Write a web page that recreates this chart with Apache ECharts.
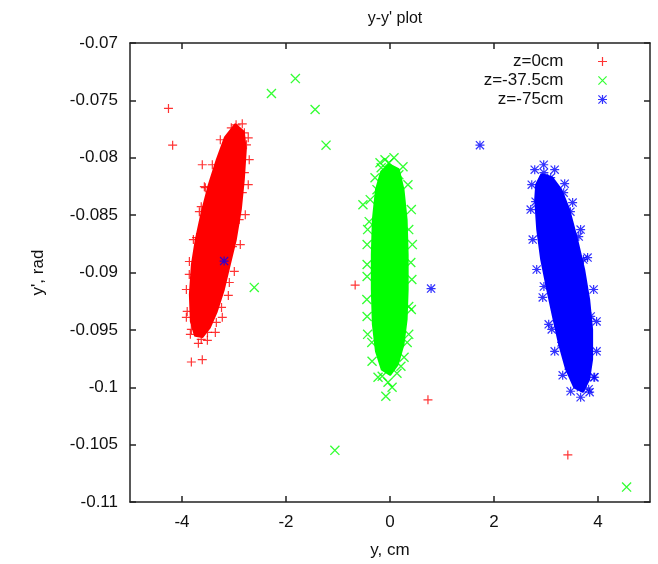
<!DOCTYPE html>
<html>
<head>
<meta charset="utf-8">
<script src="https://cdn.jsdelivr.net/npm/echarts@6/dist/echarts.min.js"></script>
<style>html,body{margin:0;padding:0;background:#fff}#c{width:658px;height:564px}</style>
</head>
<body>
<div id="c"></div>
<script>
// ---- data ----
const titleText = "y-y' plot";
const xName = "y, cm";
const yName = "y', rad";
const seriesNames = ["z=0cm", "z=-37.5cm", "z=-75cm"];
const xTickValues = [-4, -2, 0, 2, 4];
const yTickValues = [-0.11, -0.105, -0.1, -0.095, -0.09, -0.085, -0.08, -0.075, -0.07];

// dense core outlines (y [cm], y' [rad])
const redCore = [[-2.975,-0.07713],[-2.821,-0.07774],[-2.783,-0.07930],[-2.821,-0.08191],[-2.879,-0.08452],[-2.975,-0.08713],[-3.090,-0.08930],[-3.205,-0.09148],[-3.340,-0.09339],[-3.474,-0.09478],[-3.608,-0.09557],[-3.743,-0.09548],[-3.820,-0.09426],[-3.839,-0.09191],[-3.800,-0.08930],[-3.724,-0.08713],[-3.608,-0.08470],[-3.474,-0.08235],[-3.321,-0.08017],[-3.167,-0.07826]];
const greenCore = [[-0.019,-0.08061],[0.160,-0.08104],[0.250,-0.08278],[0.310,-0.08539],[0.330,-0.08843],[0.330,-0.09148],[0.310,-0.09409],[0.250,-0.09626],[0.140,-0.09800],[0.000,-0.09887],[-0.150,-0.09843],[-0.260,-0.09687],[-0.320,-0.09452],[-0.340,-0.09148],[-0.340,-0.08843],[-0.320,-0.08539],[-0.260,-0.08278],[-0.160,-0.08122]];
const blueCore = [[2.917,-0.08148],[3.109,-0.08174],[3.282,-0.08278],[3.436,-0.08452],[3.589,-0.08713],[3.724,-0.08974],[3.820,-0.09235],[3.877,-0.09496],[3.877,-0.09757],[3.820,-0.09930],[3.704,-0.10035],[3.551,-0.10000],[3.397,-0.09843],[3.263,-0.09626],[3.148,-0.09391],[3.033,-0.09148],[2.917,-0.08887],[2.841,-0.08626],[2.802,-0.08365],[2.821,-0.08235]];

// individual points (fringe + outliers)
const redPoints = [[-4.26,-0.0757],[-4.18,-0.0789],[-0.67,-0.0911],[0.73,-0.1011],[3.42,-0.1059],[-3.82,-0.0978],[-3.61,-0.0976],
 [-2.96,-0.07713],[-2.80,-0.07783],[-2.76,-0.07887],[-3.61,-0.08061],[-3.57,-0.08252],[-3.63,-0.08426],[-3.72,-0.08696],[-3.86,-0.09017],[-3.90,-0.09339],[-3.82,-0.09496],[-3.63,-0.09583],[-3.24,-0.09304],[-3.09,-0.09087],[-3.03,-0.08774],[-2.84,-0.08304],[-2.80,-0.08130],[-2.90,-0.08539],[-3.34,-0.09435],[-3.51,-0.09522],[-3.15,-0.08913],
 [-3.263,-0.07843],[-3.417,-0.08061],[-3.551,-0.08261],[-3.666,-0.08470],[-3.781,-0.08713],[-3.858,-0.08904],[-3.916,-0.09148],[-3.916,-0.09391],[-3.839,-0.09539],[-3.685,-0.09617],[-3.512,-0.09591],[-3.359,-0.09522],[-3.225,-0.09391],[-3.109,-0.09200],[-2.994,-0.08991],[-2.879,-0.08757],[-2.783,-0.08496],[-2.726,-0.08235],[-2.707,-0.08017],[-2.726,-0.07826],[-2.841,-0.07704],[-3.052,-0.07739]];
const greenPoints = [[-2.28,-0.0744],[-1.82,-0.0731],[-1.44,-0.0758],[-1.23,-0.0789],[-2.61,-0.0913],[-1.06,-0.1055],[4.55,-0.1087],[-0.52,-0.0841],
 [-0.02,-0.08043],[-0.17,-0.08087],[0.17,-0.08148],[-0.40,-0.08557],[-0.44,-0.08757],[-0.44,-0.09035],[-0.44,-0.09383],[-0.35,-0.09609],[-0.15,-0.09904],[0.04,-0.10000],[-0.08,-0.10078],[0.36,-0.08626],[0.40,-0.08913],[0.36,-0.09296],[0.33,-0.09609],[0.21,-0.09817],[-0.25,-0.08278],
 [-0.096,-0.08017],[0.077,-0.08000],[0.250,-0.08078],[0.345,-0.08235],[0.410,-0.08452],[0.430,-0.08757],[0.420,-0.09061],[0.410,-0.09322],[0.360,-0.09539],[0.270,-0.09739],[0.134,-0.09878],[-0.038,-0.09957],[-0.230,-0.09913],[-0.345,-0.09774],[-0.430,-0.09539],[-0.445,-0.09235],[-0.440,-0.08930],[-0.430,-0.08626],[-0.380,-0.08365],[-0.288,-0.08174],[-0.192,-0.08043]];
const bluePoints = [[1.73,-0.0789],[0.79,-0.0914],[-3.19,-0.0890],
 [2.96,-0.08130],[3.09,-0.08174],[2.80,-0.08383],[3.34,-0.08304],[3.47,-0.08470],[2.96,-0.09122],[3.11,-0.09496],[3.30,-0.09609],[3.63,-0.08687],[3.72,-0.08887],[3.86,-0.09383],[3.92,-0.09913],[3.67,-0.10000],[3.82,-0.10017],[3.76,-0.09757],[3.44,-0.09843],
 [2.783,-0.08104],[2.956,-0.08061],[3.167,-0.08104],[3.359,-0.08226],[3.512,-0.08391],[3.666,-0.08626],[3.800,-0.08870],[3.916,-0.09148],[3.973,-0.09426],[3.973,-0.09687],[3.935,-0.09913],[3.839,-0.10043],[3.666,-0.10087],[3.474,-0.10035],[3.321,-0.09896],[3.167,-0.09687],[3.052,-0.09452],[2.937,-0.09217],[2.821,-0.08974],[2.745,-0.08713],[2.706,-0.08452],[2.726,-0.08235]];

// ---- styles ----
const COLORS = ['#ff0000', '#00ff00', '#0000ff'];
const PLUS = 'path://M3.9,0H5.1V9H3.9Z M0,3.9H9V5.1H0Z';
const CROSS = 'path://M0,0.85L0.85,0L9,8.15L8.15,9Z M8.15,0L9,0.85L0.85,9L0,8.15Z';
const STAR = 'path://M3.9,0H5.1V9H3.9Z M0,3.9H9V5.1H0Z M0,0.85L0.85,0L9,8.15L8.15,9Z M8.15,0L9,0.85L0.85,9L0,8.15Z';
const SYMBOLS = [PLUS, CROSS, STAR];
const FONT = 'Liberation Sans';

function coreSeries(outline, color, name) {
  return {
    type: 'custom', name: name, silent: true,
    data: [0],
    renderItem: function (params, api) {
      const pts = outline.map(p => api.coord(p));
      return { type: 'polygon', shape: { points: pts },
        style: { fill: color, stroke: color, lineWidth: 3, lineJoin: 'round' } };
    }
  };
}
function pointSeries(points, i) {
  return {
    type: 'scatter', name: seriesNames[i], data: points,
    symbol: SYMBOLS[i], symbolSize: i === 1 ? 10 : 9,
    itemStyle: { color: COLORS[i], opacity: 0.8 },
    emphasis: { disabled: true }, animation: false
  };
}

const axisLineStyle = { color: '#222', width: 1.5 };
const chart = echarts.init(document.getElementById('c'), null, { renderer: 'canvas' });
chart.setOption({
  animation: false,
  color: COLORS,
  title: { text: titleText, left: 390, top: 6, textAlign: 'center',
    textStyle: { fontFamily: FONT, fontSize: 16, fontWeight: 'normal', color: '#111' } },
  legend: {
    orient: 'vertical', align: 'right', right: 51, top: 52, padding: 0, itemGap: 0,
    itemWidth: 68, itemHeight: 9, selectedMode: false,
    textStyle: { fontFamily: FONT, fontSize: 17, lineHeight: 19, color: '#111' },
    data: seriesNames.map((n, i) => ({ name: n, icon: SYMBOLS[i] }))
  },
  grid: { left: 130, right: 8, top: 43, bottom: 61 },
  xAxis: [{
    type: 'value', min: -5, max: 5, position: 'bottom',
    name: xName, nameLocation: 'middle', nameGap: 40,
    nameTextStyle: { fontFamily: FONT, fontSize: 17, color: '#111' },
    axisLine: { show: true, onZero: false, lineStyle: axisLineStyle },
    axisTick: { show: true, inside: true, length: 6, customValues: xTickValues, lineStyle: axisLineStyle },
    axisLabel: { customValues: xTickValues, margin: 12, fontFamily: FONT, fontSize: 17, color: '#111' },
    splitLine: { show: false }
  }, {
    type: 'value', min: -5, max: 5, position: 'top',
    axisLine: { show: true, onZero: false, lineStyle: axisLineStyle },
    axisTick: { show: true, inside: true, length: 6, customValues: xTickValues, lineStyle: axisLineStyle },
    axisLabel: { show: false }, splitLine: { show: false }
  }],
  yAxis: [{
    type: 'value', min: -0.11, max: -0.07, position: 'left',
    name: yName, nameLocation: 'middle', nameGap: 83, nameRotate: 90,
    nameTextStyle: { fontFamily: FONT, fontSize: 17, color: '#111' },
    axisLine: { show: true, onZero: false, lineStyle: axisLineStyle },
    axisTick: { show: true, inside: true, length: 6, customValues: yTickValues, lineStyle: axisLineStyle },
    axisLabel: { customValues: yTickValues, margin: 12, fontFamily: FONT, fontSize: 17, color: '#111' },
    splitLine: { show: false }
  }, {
    type: 'value', min: -0.11, max: -0.07, position: 'right',
    axisLine: { show: true, onZero: false, lineStyle: axisLineStyle },
    axisTick: { show: true, inside: true, length: 6, customValues: yTickValues, lineStyle: axisLineStyle },
    axisLabel: { show: false }, splitLine: { show: false }
  }],
  series: [
    coreSeries(redCore, COLORS[0], 'core-red'),
    pointSeries(redPoints, 0),
    coreSeries(greenCore, COLORS[1], 'core-green'),
    pointSeries(greenPoints, 1),
    coreSeries(blueCore, COLORS[2], 'core-blue'),
    pointSeries(bluePoints, 2)
  ]
});
</script>
</body>
</html>
